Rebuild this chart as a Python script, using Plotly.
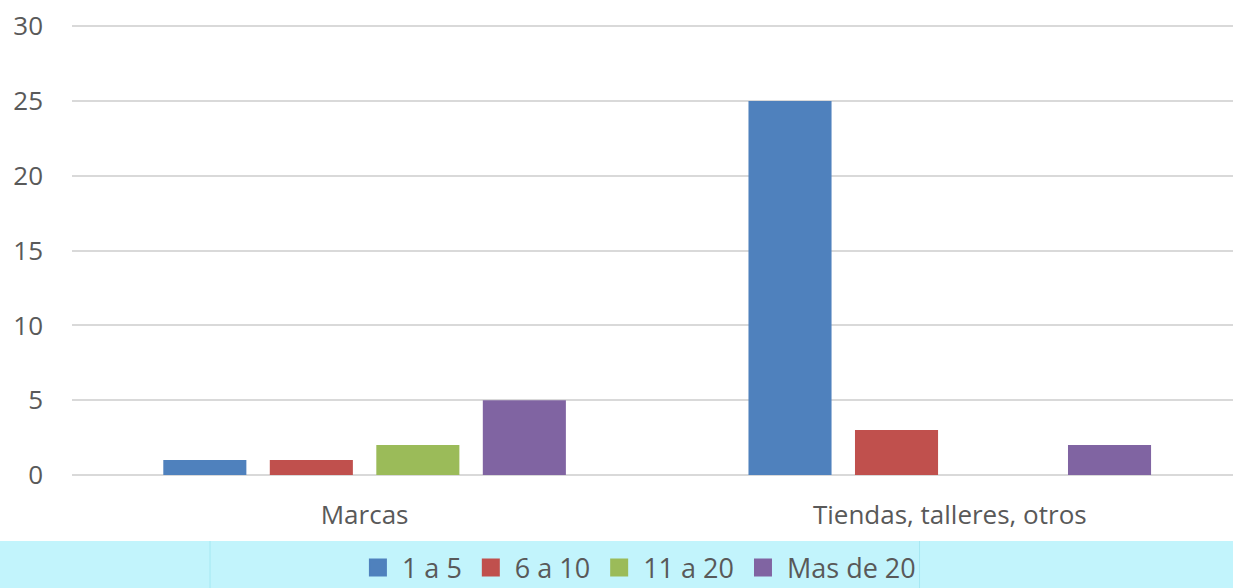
import plotly.graph_objects as go

categories = ["Marcas", "Tiendas, talleres, otros"]
series_names = ["1 a 5", "6 a 10", "11 a 20", "Mas de 20"]
values_1a5 = [1, 25]
values_6a10 = [1, 3]
values_11a20 = [2, 0]
values_mas20 = [5, 2]
colors = ["#4F81BD", "#C0504D", "#9BBB59", "#8064A2"]
y_ticks = [0, 5, 10, 15, 20, 25, 30]

all_values = [values_1a5, values_6a10, values_11a20, values_mas20]

FONT = "Open Sans"
TXT = "#595959"

fig = go.Figure()
for name, vals, col in zip(series_names, all_values, colors):
    fig.add_trace(go.Bar(
        x=categories, y=vals, name=name, showlegend=False,
        marker=dict(color=col, line=dict(width=0)),
    ))
for name, col in zip(series_names, colors):
    fig.add_trace(go.Scatter(
        x=[None], y=[None], mode="markers", name=name,
        marker=dict(symbol="square", size=16, color=col, line=dict(color=col, width=2)),
    ))

fig.update_layout(
    width=1233, height=588,
    margin=dict(l=72, r=0, t=25, b=113, autoexpand=False),
    paper_bgcolor="white", plot_bgcolor="white",
    barmode="group", bargap=0.272, bargroupgap=0.22,
    font=dict(family=FONT, color=TXT, size=26),
    showlegend=True,
    legend=dict(
        orientation="h", x=0.487, xanchor="center", y=-0.2067, yanchor="middle",
        bgcolor="rgba(0,0,0,0)", font=dict(family=FONT, size=27, color=TXT),
        tracegroupgap=0, itemsizing="trace", itemwidth=38,
    ),
    shapes=[
        dict(type="rect", xref="paper", yref="paper", x0=-0.07, x1=1.01,
             y0=-0.27, y1=-0.1467, fillcolor="#C2F4FC", line=dict(width=0), layer="below"),
        dict(type="line", xref="paper", yref="paper", x0=0.1189, x1=0.1189,
             y0=-0.27, y1=-0.1467, line=dict(color="#A6E8F2", width=1), layer="below"),
        dict(type="line", xref="paper", yref="paper", x0=0.730, x1=0.730,
             y0=-0.27, y1=-0.1467, line=dict(color="#A6E8F2", width=1), layer="below"),
    ],
)
fig.update_xaxes(
    range=[-0.5, 1.484], showgrid=False, showline=False, zeroline=False,
    ticks="", tickfont=dict(family=FONT, size=26, color=TXT), ticklabelstandoff=22,
)
fig.update_yaxes(
    range=[0, 30.08], tickvals=y_ticks, showgrid=True, gridcolor="#D9D9D9", gridwidth=1.5,
    zeroline=True, zerolinecolor="#D9D9D9", zerolinewidth=1.5, showline=False,
    ticks="", tickfont=dict(family=FONT, size=26, color=TXT), ticklabelstandoff=28,
)

fig.write_html("out.html", config={"displayModeBar": False},
               post_script="document.body.style.margin='0';")
